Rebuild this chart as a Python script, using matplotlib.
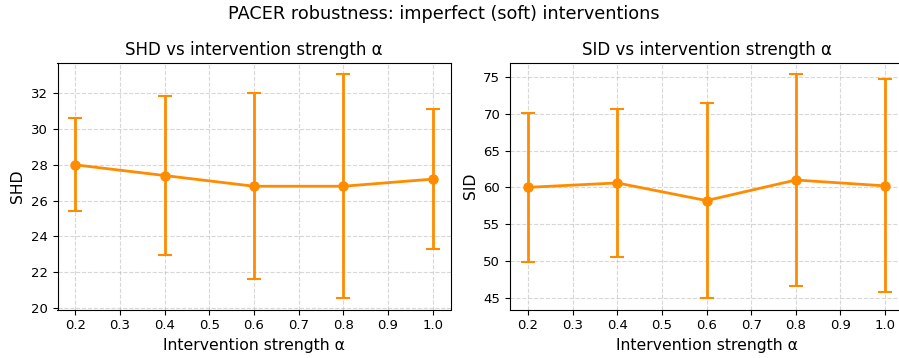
import numpy as np
import matplotlib
matplotlib.use("Agg")
from matplotlib import pyplot as plt

alphas = [0.2, 0.4, 0.6, 0.8, 1.0]
shd_mean = [28.0, 27.4, 26.8, 26.8, 27.2]
shd_std = [2.6, 4.44, 5.2, 6.28, 3.92]
sid_mean = [60.0, 60.6, 58.2, 61.0, 60.2]
sid_std = [10.1, 10.1, 13.3, 14.4, 14.5]

color = "darkorange"

fig = plt.figure(figsize=(8.99, 3.58), dpi=100)
# axes placed in pixel terms of the 899x358 canvas (right panel runs off the edge)
ax1 = fig.add_axes([57.5 / 899, 48.5 / 358, 393 / 899, 246.5 / 358])
ax2 = fig.add_axes([510 / 899, 48.5 / 358, 393 / 899, 246.5 / 358])

panels = [
    (ax1, shd_mean, shd_std, "SHD"),
    (ax2, sid_mean, sid_std, "SID"),
]
for ax, m, s, name in panels:
    ax.errorbar(alphas, m, yerr=s, color=color, marker="o", markersize=6.5,
                linewidth=2, elinewidth=2, capsize=5, capthick=1.5)
    ax.set_title(f"{name} vs intervention strength α", fontsize=12)
    ax.set_xlabel("Intervention strength α", fontsize=11.25)
    ax.set_ylabel(name, fontsize=11.25)
    ax.set_xticks(np.arange(0.2, 1.01, 0.1))
    ax.tick_params(labelsize=9.5)
    ax.grid(True, linestyle="--", alpha=0.5)

fig.suptitle("PACER robustness: imperfect (soft) interventions", fontsize=12.7,
             x=444 / 899, y=1 - 14 / 358, va="center")
fig.savefig("out.png", dpi=100)
